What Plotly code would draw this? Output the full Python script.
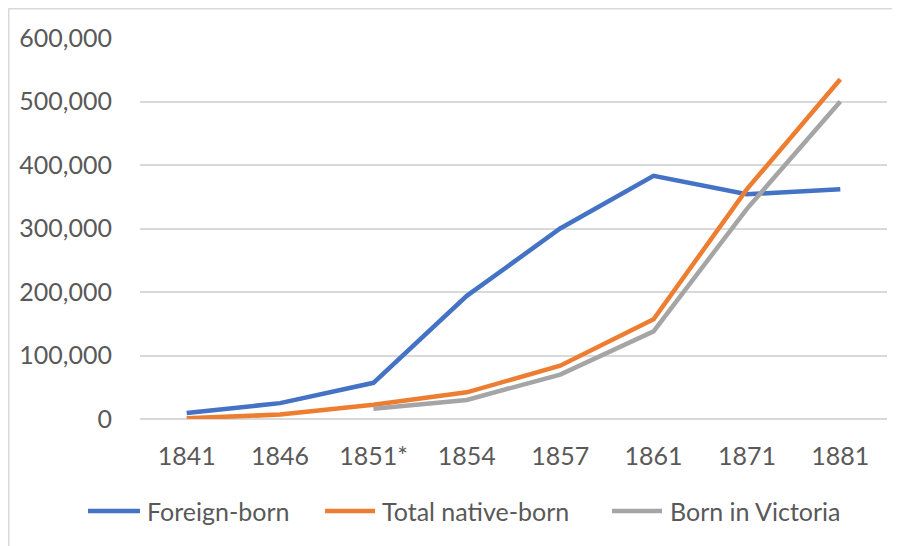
import plotly.graph_objects as go

years = ["1841", "1846", "1851*", "1854", "1857", "1861", "1871", "1881"]
foreign_born = [9500, 25000, 57000, 194000, 300000, 383000, 354000, 362000]
total_native_born = [1000, 7000, 22500, 42000, 84000, 157000, 362000, 535000]
born_in_victoria = [None, None, 16000, 30000, 70000, 138000, 331000, 500000]

series = [
    ("Foreign-born", foreign_born, "#4472C4"),
    ("Total native-born", total_native_born, "#ED7D31"),
    ("Born in Victoria", born_in_victoria, "#A5A5A5"),
]

font_family = "Lato, Carlito, Calibri, sans-serif"
text_color = "#595959"
font_size = 25

fig = go.Figure()
for name, vals, color in series:
    fig.add_trace(go.Scatter(
        x=years, y=vals, name=name, mode="lines",
        line=dict(color=color, width=4.5),
        connectgaps=False, showlegend=False,
    ))

# the page body has an 8px margin, so the figure is sized to fit the window
fig.update_layout(
    width=892, height=538,
    margin=dict(l=132, r=13, t=30, b=127, autoexpand=False),
    paper_bgcolor="white", plot_bgcolor="white",
    font=dict(family=font_family, size=font_size, color=text_color),
    xaxis=dict(type="category", range=[-0.5, 7.5], showgrid=False, showline=False,
               zeroline=False, ticks="", ticklabelstandoff=20, automargin=False,
               tickfont=dict(size=font_size, color=text_color)),
    yaxis=dict(range=[0, 600000], tickvals=[0, 100000, 200000, 300000, 400000, 500000, 600000],
               tickformat=",d", showgrid=True, gridcolor="#D9D9D9", gridwidth=1.5,
               zeroline=True, zerolinecolor="#D9D9D9", zerolinewidth=1.5,
               showline=False, ticks="", ticklabelstandoff=27, automargin=False,
               tickfont=dict(size=font_size, color=text_color)),
)

# chart-area border (cropped at right/bottom like the reference)
fig.add_shape(type="rect", xref="paper", yref="paper",
              x0=-0.1757, x1=1.2, y0=-0.5, y1=1.0768,
              line=dict(color="#D9D9D9", width=1.5), fillcolor="rgba(0,0,0,0)", layer="below")

# legend: long line swatches like the reference
legend_y = -0.2415
legend_pos = [(-0.0696, 0.0, 0.0067), (0.2477, 0.3146, 0.3213), (0.6319, 0.6988, 0.7068)]
for (name, vals, color), (lx0, lx1, tx) in zip(series, legend_pos):
    fig.add_shape(type="line", xref="paper", yref="paper",
                  x0=lx0, x1=lx1, y0=legend_y, y1=legend_y,
                  line=dict(color=color, width=4.5))
    fig.add_annotation(xref="paper", yref="paper", x=tx, y=legend_y, text=name,
                       showarrow=False, xanchor="left", yanchor="middle",
                       font=dict(size=font_size, color=text_color))

fig.write_html("out.html")
